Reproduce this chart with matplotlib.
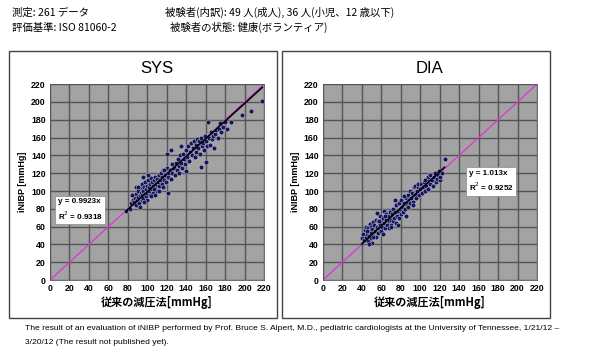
import matplotlib
matplotlib.use("Agg")
from matplotlib import pyplot as plt
from matplotlib.patches import Rectangle

plt.rcParams['font.family'] = ['Noto Sans CJK JP', 'DejaVu Sans']

# SYS data (reference method x, iNIBP y)
sys_x = [78, 82, 83, 85, 85, 86, 87, 88, 88, 89, 90, 90, 91, 92, 92, 93, 94, 94, 95, 95,
         96, 96, 97, 98, 98, 99, 99, 100, 100, 101, 102, 102, 103, 103, 104, 105, 105, 106, 106, 107,
         108, 108, 109, 110, 110, 111, 112, 112, 113, 114, 115, 115, 116, 117, 118, 119, 120, 120, 121, 122,
         123, 124, 125, 125, 127, 128, 129, 130, 131, 132, 133, 134, 135, 136, 137, 138, 139, 140, 140, 141,
         142, 143, 144, 145, 146, 147, 148, 149, 150, 150, 151, 152, 153, 154, 155, 155, 156, 157, 158, 159,
         160, 160, 161, 162, 163, 164, 165, 166, 167, 168, 170, 171, 173, 174, 175, 176, 178, 180, 182, 186,
         197, 206, 218, 88, 92, 96, 100, 104, 108, 112, 116, 124, 135, 117, 121, 84, 90, 97, 101, 107]
sys_y = [78, 80, 86, 90, 95, 88, 92, 84, 97, 90, 93, 100, 86, 95, 105, 98, 90, 102, 96, 108,
         92, 100, 104, 97, 110, 94, 102, 106, 98, 112, 100, 104, 96, 108, 115, 102, 110, 106, 98, 112,
         104, 116, 108, 100, 114, 110, 118, 106, 112, 120, 108, 116, 124, 112, 118, 110, 126, 142, 116, 120,
         124, 114, 130, 120, 126, 118, 132, 124, 136, 128, 120, 140, 132, 126, 142, 136, 130, 146, 122, 138,
         150, 134, 144, 154, 140, 148, 156, 138, 152, 144, 158, 148, 156, 142, 127, 160, 150, 154, 146, 162,
         133, 156, 150, 178, 160, 152, 166, 158, 162, 148, 164, 168, 160, 170, 176, 166, 172, 177, 170, 178,
         185, 190, 201, 104, 82, 116, 90, 94, 96, 100, 104, 146, 150, 124, 98, 96, 104, 88, 118, 102]

# DIA data
dia_x = [40, 41, 42, 43, 44, 44, 45, 46, 46, 47, 48, 48, 49, 50, 50, 51, 51, 52, 53, 53,
         54, 55, 55, 56, 57, 57, 58, 59, 59, 60, 60, 61, 62, 62, 63, 63, 64, 65, 65, 66,
         67, 68, 68, 69, 70, 70, 71, 72, 72, 73, 74, 75, 75, 76, 77, 78, 78, 79, 80, 80,
         81, 82, 83, 84, 85, 85, 86, 87, 88, 88, 89, 90, 90, 91, 92, 93, 94, 95, 95, 96,
         97, 98, 98, 99, 100, 101, 102, 103, 104, 105, 106, 107, 108, 108, 110, 110, 112, 113, 114, 115,
         116, 117, 118, 119, 120, 120, 122, 125, 74, 77, 56, 47, 45, 52, 58, 64, 70, 83, 93, 105]
dia_y = [47, 52, 45, 56, 48, 60, 52, 44, 58, 50, 55, 63, 47, 53, 60, 42, 57, 65, 50, 62,
         55, 68, 48, 60, 53, 66, 58, 63, 72, 55, 67, 60, 70, 52, 64, 78, 58, 68, 74, 62,
         72, 66, 58, 76, 68, 62, 74, 80, 66, 70, 76, 64, 84, 72, 78, 70, 86, 80, 74, 90,
         82, 76, 86, 80, 92, 72, 84, 88, 82, 96, 90, 86, 100, 92, 98, 88, 104, 96, 106, 92,
         100, 104, 108, 96, 102, 108, 98, 104, 110, 100, 106, 112, 116, 102, 108, 118, 112, 106, 116, 120,
         110, 114, 118, 122, 112, 116, 120, 136, 90, 62, 75, 40, 55, 48, 66, 72, 60, 94, 84, 112]

panels = [
    ("SYS", sys_x, sys_y, 0.9923, "y = 0.9923x\nR$^2$ = 0.9318", (8, 92), 0.0833),
    ("DIA", dia_x, dia_y, 1.013, "y = 1.013x\nR$^2$ = 0.9252", (150, 124), 0.538),
]

fig = plt.figure(figsize=(6, 3.55), dpi=100)

# panel frames
for bx in [0.015, 0.47]:
    fig.patches.append(Rectangle((bx, 0.104), 0.447, 0.752, transform=fig.transFigure,
                                 fill=False, edgecolor='#444444', linewidth=1.0))

ticks = list(range(0, 221, 20))
for name, xs, ys, slope, eq, pos, left in panels:
    ax = fig.add_axes([left, 0.211, 0.357, 0.552])
    ax.set_facecolor('#a3a3a3')
    ax.set_xlim(0, 220)
    ax.set_ylim(0, 220)
    ax.set_xticks(ticks)
    ax.set_yticks(ticks)
    ax.grid(True, color='#555555', linewidth=1.0)
    ax.set_axisbelow(True)
    ax.tick_params(length=0, pad=3)
    for lab in ax.get_xticklabels() + ax.get_yticklabels():
        lab.set_fontsize(6.3)
        lab.set_fontweight('bold')
        lab.set_family(['Liberation Sans', 'DejaVu Sans'])
    for s in ax.spines.values():
        s.set_color('#555555')
        s.set_linewidth(0.6)
    ax.plot([0, 220], [0, 220], color='#e030e0', linewidth=0.9, zorder=2)
    ax.scatter(xs, ys, s=12, color='#15155c', edgecolors='#d8d8e0', linewidths=0.3, zorder=3)
    x0, x1 = min(xs), max(xs)
    ax.plot([x0, x1], [slope * x0, slope * x1], color='black', linewidth=1.2, zorder=4)
    ax.text(pos[0], pos[1], eq, fontsize=5.8, fontweight='bold', va='top', ha='left',
            family=['Liberation Sans', 'DejaVu Sans'], linespacing=1.4,
            bbox=dict(facecolor='white', edgecolor='#888888', linewidth=0.5, pad=1.8), zorder=5)
    ax.set_title(name, fontsize=12, pad=8, family=['Liberation Sans', 'DejaVu Sans'])
    ax.set_xlabel('従来の減圧法[mmHg]', fontsize=8, fontweight='bold', labelpad=2)
    ax.set_ylabel('iNIBP [mmHg]', fontsize=6.5, fontweight='bold', labelpad=3,
                  family=['Liberation Sans', 'DejaVu Sans'])

# header text
fig.text(0.02, 0.965, '測定: 261 データ', fontsize=7.5, va='center')
fig.text(0.02, 0.922, '評価基準: ISO 81060-2', fontsize=7.5, va='center')
fig.text(0.275, 0.965, '被験者(内訳): 49 人(成人), 36 人(小児、12 歳以下)', fontsize=7.5, va='center')
fig.text(0.284, 0.922, '被験者の状態: 健康(ボランティア)', fontsize=7.5, va='center')

# footnote
fig.text(0.042, 0.075, 'The result of an evaluation of iNIBP performed by Prof. Bruce S. Alpert, M.D., '
         'pediatric cardiologists at the University of Tennessee, 1/21/12 \u2013',
         fontsize=6.1, va='center', family=['Liberation Sans', 'DejaVu Sans'])
fig.text(0.042, 0.036, '3/20/12 (The result not published yet).', fontsize=6.1, va='center',
         family=['Liberation Sans', 'DejaVu Sans'])

plt.savefig('out.png', dpi=100)
